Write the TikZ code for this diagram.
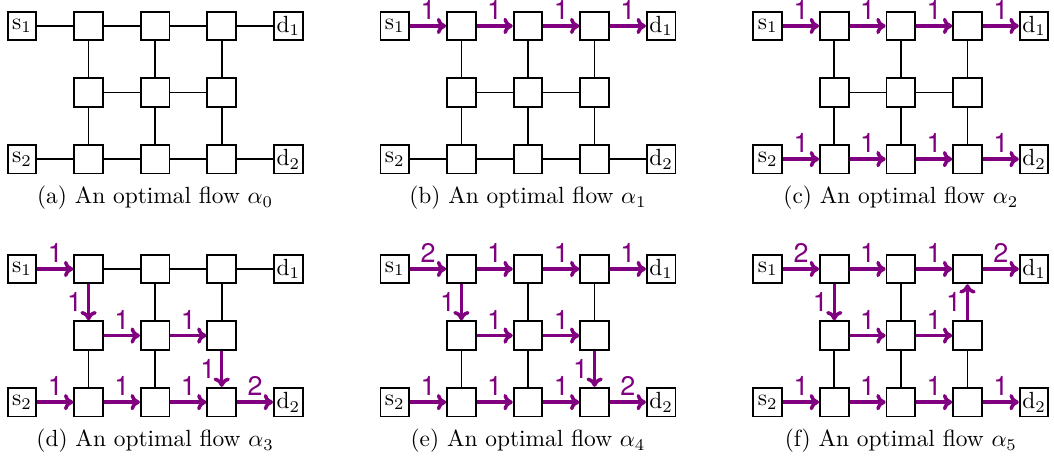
\documentclass[tikz,border=0pt]{standalone}
\usepackage{fontspec}
\usepackage{tikz}
\usetikzlibrary{calc,arrows.meta}
\newfontfamily\amtfont{TeX Gyre Heros}
\definecolor{flowc}{RGB}{128,0,128}

\tikzset{
  box/.style={draw, line width=0.8pt, minimum size=4.3mm, inner sep=0pt, fill=white},
  edge/.style={line width=0.7pt},
  flow/.style={-{To[length=4pt,width=7pt]}, line width=1.5pt, draw=flowc},
  amt/.style={font=\amtfont\fontsize{11.5}{13}\selectfont, text=flowc, inner sep=2pt},
  caption/.style={inner sep=0pt},
}

% one panel: #1 shift, #2 name prefix, #3 caption, #4 edges
\newcommand{\flowgrid}[4]{%
  \begin{scope}[shift={#1}, name prefix=#2-]
    \node[box] (s1) at (0,0) {$\mathrm{s}_1$};
    \node[box] (a1) at (1,0) {};
    \node[box] (a2) at (2,0) {};
    \node[box] (a3) at (3,0) {};
    \node[box] (d1) at (4,0) {$\mathrm{d}_1$};
    \node[box] (b1) at (1,-1) {};
    \node[box] (b2) at (2,-1) {};
    \node[box] (b3) at (3,-1) {};
    \node[box] (s2) at (0,-2) {$\mathrm{s}_2$};
    \node[box] (c1) at (1,-2) {};
    \node[box] (c2) at (2,-2) {};
    \node[box] (c3) at (3,-2) {};
    \node[box] (d2) at (4,-2) {$\mathrm{d}_2$};
    #4
    \node[caption] (cap) at (2,-2.58) {#3};
  \end{scope}}

\begin{document}
\begin{tikzpicture}
  \useasboundingbox (-0.33,0.39) rectangle (15.5,-6.52);

  %%%%% (a) %%%%%
  \flowgrid{(0,0)}{pa}{(a) An optimal flow $\alpha_0$}{
    \draw[edge] (s1) -- (a1) -- (a2) -- (a3) -- (d1);
    \draw[edge] (s2) -- (c1) -- (c2) -- (c3) -- (d2);
    \draw[edge] (b1) -- (b2) -- (b3);
    \draw[edge] (a1) -- (b1) -- (c1);
    \draw[edge] (a2) -- (b2) -- (c2);
    \draw[edge] (a3) -- (b3) -- (c3);
  }

  %%%%% (b) %%%%%
  \flowgrid{(5.6,0)}{pb}{(b) An optimal flow $\alpha_1$}{
    \draw[edge] (s2) -- (c1) -- (c2) -- (c3) -- (d2);
    \draw[edge] (b1) -- (b2) -- (b3);
    \draw[edge] (a1) -- (b1) -- (c1);
    \draw[edge] (a2) -- (b2) -- (c2);
    \draw[edge] (a3) -- (b3) -- (c3);
    \draw[flow] (s1) -- node[amt,above]{1} (a1);
    \draw[flow] (a1) -- node[amt,above]{1} (a2);
    \draw[flow] (a2) -- node[amt,above]{1} (a3);
    \draw[flow] (a3) -- node[amt,above]{1} (d1);
  }

  %%%%% (c) %%%%%
  \flowgrid{(11.2,0)}{pc}{(c) An optimal flow $\alpha_2$}{
    \draw[edge] (b1) -- (b2) -- (b3);
    \draw[edge] (a1) -- (b1) -- (c1);
    \draw[edge] (a2) -- (b2) -- (c2);
    \draw[edge] (a3) -- (b3) -- (c3);
    \draw[flow] (s1) -- node[amt,above]{1} (a1);
    \draw[flow] (a1) -- node[amt,above]{1} (a2);
    \draw[flow] (a2) -- node[amt,above]{1} (a3);
    \draw[flow] (a3) -- node[amt,above]{1} (d1);
    \draw[flow] (s2) -- node[amt,above]{1} (c1);
    \draw[flow] (c1) -- node[amt,above]{1} (c2);
    \draw[flow] (c2) -- node[amt,above]{1} (c3);
    \draw[flow] (c3) -- node[amt,above]{1} (d2);
  }

  %%%%% (d) %%%%%
  \flowgrid{(0,-3.65)}{pd}{(d) An optimal flow $\alpha_3$}{
    \draw[edge] (a1) -- (a2) -- (a3) -- (d1);
    \draw[edge] (b1) -- (c1);
    \draw[edge] (a2) -- (b2) -- (c2);
    \draw[edge] (a3) -- (b3);
    \draw[flow] (s1) -- node[amt,above]{1} (a1);
    \draw[flow] (a1) -- node[amt,left]{1} (b1);
    \draw[flow] (b1) -- node[amt,above]{1} (b2);
    \draw[flow] (b2) -- node[amt,above]{1} (b3);
    \draw[flow] (b3) -- node[amt,left]{1} (c3);
    \draw[flow] (s2) -- node[amt,above]{1} (c1);
    \draw[flow] (c1) -- node[amt,above]{1} (c2);
    \draw[flow] (c2) -- node[amt,above]{1} (c3);
    \draw[flow] (c3) -- node[amt,above]{2} (d2);
  }

  %%%%% (e) %%%%%
  \flowgrid{(5.6,-3.65)}{pe}{(e) An optimal flow $\alpha_4$}{
    \draw[edge] (b1) -- (c1);
    \draw[edge] (a2) -- (b2) -- (c2);
    \draw[edge] (a3) -- (b3);
    \draw[flow] (s1) -- node[amt,above]{2} (a1);
    \draw[flow] (a1) -- node[amt,above]{1} (a2);
    \draw[flow] (a2) -- node[amt,above]{1} (a3);
    \draw[flow] (a3) -- node[amt,above]{1} (d1);
    \draw[flow] (a1) -- node[amt,left]{1} (b1);
    \draw[flow] (b1) -- node[amt,above]{1} (b2);
    \draw[flow] (b2) -- node[amt,above]{1} (b3);
    \draw[flow] (b3) -- node[amt,left]{1} (c3);
    \draw[flow] (s2) -- node[amt,above]{1} (c1);
    \draw[flow] (c1) -- node[amt,above]{1} (c2);
    \draw[flow] (c2) -- node[amt,above]{1} (c3);
    \draw[flow] (c3) -- node[amt,above]{2} (d2);
  }

  %%%%% (f) %%%%%
  \flowgrid{(11.2,-3.65)}{pf}{(f) An optimal flow $\alpha_5$}{
    \draw[edge] (b1) -- (c1);
    \draw[edge] (a2) -- (b2) -- (c2);
    \draw[edge] (b3) -- (c3);
    \draw[flow] (s1) -- node[amt,above]{2} (a1);
    \draw[flow] (a1) -- node[amt,above]{1} (a2);
    \draw[flow] (a2) -- node[amt,above]{1} (a3);
    \draw[flow] (a3) -- node[amt,above]{2} (d1);
    \draw[flow] (a1) -- node[amt,left]{1} (b1);
    \draw[flow] (b1) -- node[amt,above]{1} (b2);
    \draw[flow] (b2) -- node[amt,above]{1} (b3);
    \draw[flow] (b3) -- node[amt,left]{1} (a3);
    \draw[flow] (s2) -- node[amt,above]{1} (c1);
    \draw[flow] (c1) -- node[amt,above]{1} (c2);
    \draw[flow] (c2) -- node[amt,above]{1} (c3);
    \draw[flow] (c3) -- node[amt,above]{1} (d2);
  }
\end{tikzpicture}
\end{document}
